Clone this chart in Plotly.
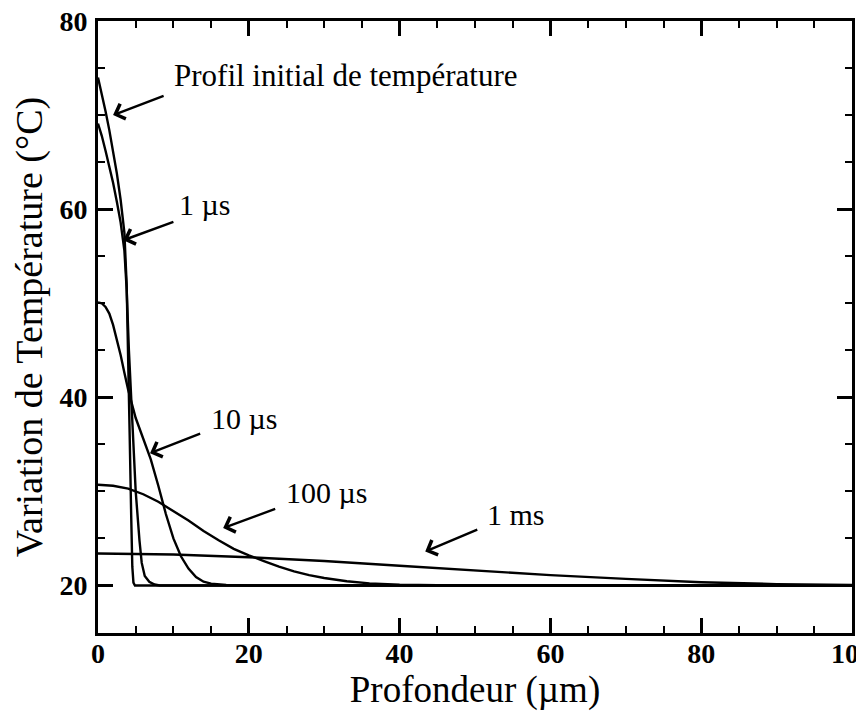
import plotly.graph_objects as go

# ---- data ----
depth_initial = [0, 0.5, 1, 1.5, 2, 2.5, 3, 3.5, 3.8, 4.0, 4.2, 4.4, 4.55, 4.7, 4.9, 100]
temp_initial = [74.0, 72.3, 70.4, 68.4, 66.2, 63.8, 61.0, 57.5, 52.0, 45.0, 36.0, 27.5, 22.0, 20.3, 20.0, 20.0]

depth_1us = [0, 0.5, 1, 1.5, 2, 2.5, 3, 3.5, 3.8, 4.1, 4.5, 5.0, 5.5, 5.8, 6.2, 6.8, 7.5, 8.2, 100]
temp_1us = [69.1, 67.8, 66.2, 64.6, 62.8, 60.8, 58.6, 55.6, 51.5, 45.0, 37.5, 30.0, 24.8, 22.4, 21.0, 20.4, 20.1, 20.0, 20.0]

depth_10us = [0, 0.5, 1, 1.5, 2, 2.5, 3, 3.5, 4, 5, 6, 7, 8, 9, 10, 11, 12, 13, 14, 15, 17, 20, 100]
temp_10us = [50.1, 50.0, 49.6, 48.9, 47.7, 46.2, 44.5, 42.6, 40.8, 37.8, 35.5, 33.4, 30.6, 27.6, 25.0, 23.1, 21.8, 20.9, 20.4, 20.2, 20.05, 20.0, 20.0]

depth_100us = [0, 2, 4, 6, 8, 10, 12, 14, 16, 18, 20, 22, 24, 26, 28, 30, 33, 36, 40, 45, 50, 100]
temp_100us = [30.7, 30.6, 30.3, 29.7, 28.9, 27.9, 26.9, 25.8, 24.8, 23.9, 23.2, 22.6, 22.0, 21.5, 21.1, 20.8, 20.45, 20.22, 20.08, 20.02, 20.0, 20.0]

depth_1ms = [0, 10, 20, 30, 40, 50, 60, 70, 80, 90, 100]
temp_1ms = [23.4, 23.3, 23.0, 22.6, 22.1, 21.6, 21.1, 20.7, 20.35, 20.15, 20.05]

series = [
    ("Profil initial", depth_initial, temp_initial),
    ("1 µs", depth_1us, temp_1us),
    ("10 µs", depth_10us, temp_10us),
    ("100 µs", depth_100us, temp_100us),
    ("1 ms", depth_1ms, temp_1ms),
]

# labels: text, text centre (x, y), arrow tail (x, y), arrow tip (x, y)
label_texts = ["Profil initial de température", "1 µs", "10 µs", "100 µs", "1 ms"]
label_sizes = [31, 30, 30, 30, 30]
label_pos = [(32.8, 74.2), (14.1, 60.5), (19.3, 37.8), (30.3, 29.9), (55.4, 27.5)]
arrow_tail = [(8.9, 72.1), (10.2, 58.7), (13.75, 36.2), (23.7, 28.2), (50.5, 26.0)]
arrow_tip = [(2.0, 70.0), (3.36, 56.7), (6.9, 34.05), (16.6, 26.1), (43.4, 23.6)]

SERIF = "Liberation Serif"

fig = go.Figure()
for name, xs, ys in series:
    fig.add_trace(go.Scatter(x=xs, y=ys, mode="lines", name=name,
                             line=dict(color="black", width=2.4),
                             showlegend=False, hoverinfo="skip"))

for txt, size, (tx, ty) in zip(label_texts, label_sizes, label_pos):
    fig.add_annotation(x=tx, y=ty, xref="x", yref="y", text=txt, showarrow=False,
                       font=dict(family=SERIF, size=size, color="black"))

for (ax_, ay_), (hx, hy) in zip(arrow_tail, arrow_tip):
    fig.add_annotation(x=hx, y=hy, ax=ax_, ay=ay_, xref="x", yref="y",
                       axref="x", ayref="y", text="", showarrow=True,
                       arrowhead=4, arrowsize=1.3, arrowwidth=2.4,
                       arrowcolor="black", standoff=0, startstandoff=0)

axis_common = dict(
    showline=True, linecolor="black", linewidth=3, mirror="ticks",
    ticks="inside", ticklen=15, tickwidth=2.5, tickcolor="black",
    showgrid=False, zeroline=False, automargin=False,
    ticklabeloverflow="allow",
    tickfont=dict(family=SERIF, size=28, color="black", weight="bold"),
    minor=dict(ticks="inside", ticklen=7, tickwidth=2, tickcolor="black", dtick=5, showgrid=False),
)

fig.update_xaxes(range=[0, 100], tickmode="array", tickvals=[0, 20, 40, 60, 80, 100],
                 title=dict(text="Profondeur (µm)", font=dict(family=SERIF, size=37, color="black"),
                            standoff=1),
                 ticklabelstandoff=-7, **axis_common)
fig.update_yaxes(range=[14.95, 80], tickmode="array", tickvals=[20, 40, 60, 80],
                 title=dict(text="Variation de Température (°C)",
                            font=dict(family=SERIF, size=38, color="black"), standoff=7),
                 ticklabelstandoff=2, **axis_common)

# the page body adds an 8 px margin, so the figure is 8 px smaller
fig.update_layout(
    width=856, height=708,
    margin=dict(l=90, r=12, t=13, b=83),
    paper_bgcolor="white", plot_bgcolor="white",
)

fig.write_html("out.html")
